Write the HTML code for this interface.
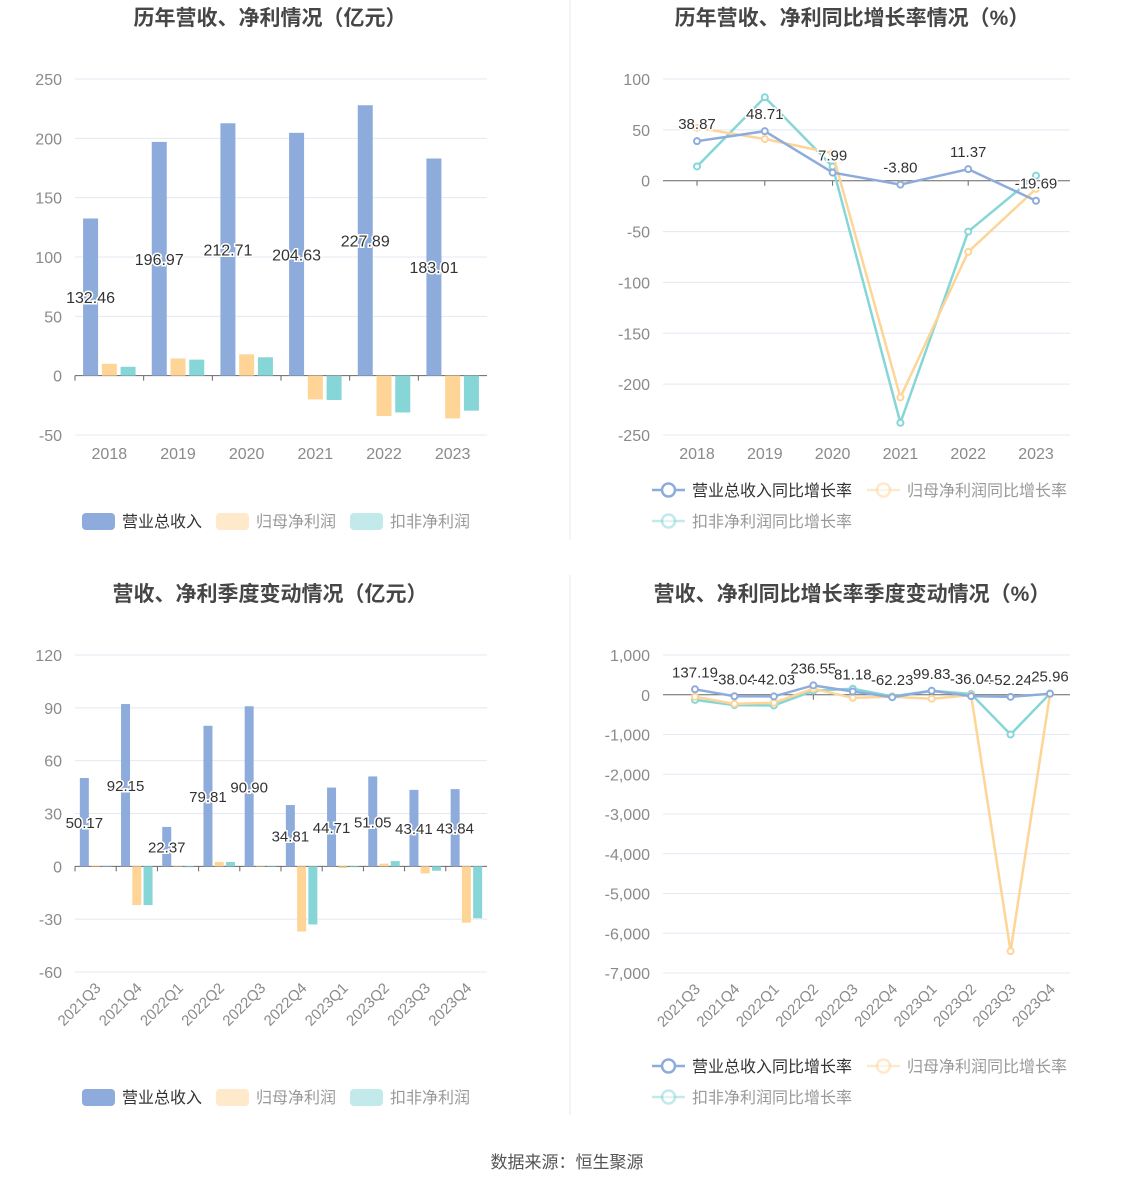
<!DOCTYPE html>
<html><head><meta charset="utf-8"><style>
html,body{margin:0;padding:0;background:#fff;}
svg{display:block;font-family:"Liberation Sans","Noto Sans CJK SC",sans-serif;}
</style></head><body>
<svg id="root" width="1134" height="1188" viewBox="0 0 1134 1188" xmlns="http://www.w3.org/2000/svg">
<line x1="570" y1="0" x2="570" y2="540" stroke="#e8e8e8"/>
<line x1="570" y1="575" x2="570" y2="1115" stroke="#e8e8e8"/>
<text x="270" y="25" text-anchor="middle" font-size="21" font-weight="bold" fill="#464646">历年营收、净利情况（亿元）</text>
<text x="852" y="25" text-anchor="middle" font-size="21" font-weight="bold" fill="#464646">历年营收、净利同比增长率情况（%）</text>
<text x="270" y="601" text-anchor="middle" font-size="21" font-weight="bold" fill="#464646">营收、净利季度变动情况（亿元）</text>
<text x="852" y="601" text-anchor="middle" font-size="21" font-weight="bold" fill="#464646">营收、净利同比增长率季度变动情况（%）</text>
<text x="567" y="1168" text-anchor="middle" font-size="17" fill="#555">数据来源：恒生聚源</text>
<g id="c1"></g>
<g id="c2"></g>
<g id="c3"></g>
<g id="c4"></g>
<g id="legends"></g>
</svg>
<script>
const years = ["2018","2019","2020","2021","2022","2023"];
const annualRevenue = [132.46,196.97,212.71,204.63,227.89,183.01];
const annualNetProfit = [10,14.5,18,-20,-34,-36];
const annualDeductedProfit = [7.5,13.5,15.5,-20.5,-31,-29.5];
const annualTicks = [250,200,150,100,50,0,-50];

const annualRevenueGrowth = [38.87,48.71,7.99,-3.80,11.37,-19.69];
const annualNetGrowth = [52,41,27,-213,-70,-8];
const annualDeductedGrowth = [14,82,14,-238,-50,5];
const annualGrowthTicks = [100,50,0,-50,-100,-150,-200,-250];

const quarters = ["2021Q3","2021Q4","2022Q1","2022Q2","2022Q3","2022Q4","2023Q1","2023Q2","2023Q3","2023Q4"];
const quarterRevenue = [50.17,92.15,22.37,79.81,90.90,34.81,44.71,51.05,43.41,43.84];
const quarterNetProfit = [0.5,-22,0.3,2.5,0.3,-37,-1,1.5,-4,-32];
const quarterDeductedProfit = [0.3,-22,-0.5,2.5,0.2,-33,-0.5,3,-2.5,-29.5];
const quarterTicks = [120,90,60,30,0,-30,-60];

const quarterRevenueGrowth = [137.19,-38.04,-42.03,236.55,81.18,-62.23,99.83,-36.04,-52.24,25.96];
const quarterNetGrowth = [-50,-230,-200,150,-80,-50,-100,-10,-6450,20];
const quarterDeductedGrowth = [-130,-260,-270,100,150,-40,100,20,-1000,30];
const quarterGrowthTicks = [1000,0,-1000,-2000,-3000,-4000,-5000,-6000,-7000];

const NS="http://www.w3.org/2000/svg";
const BLUE="#8eacdb",ORANGE="#fed597",TEAL="#86d6d8";
function mk(parent,tag,attrs,text){const e=document.createElementNS(NS,tag);for(const k in attrs)e.setAttribute(k,attrs[k]);if(text!==undefined)e.textContent=text;parent.appendChild(e);return e;}
function fmt(v){return Math.abs(v)>=1000?v.toLocaleString("en-US"):String(v);}
function yAxis(g,ticks,x0,x1,yTop,yBot){
  const max=ticks[0],min=ticks[ticks.length-1];
  const y=v=>yTop+(max-v)/(max-min)*(yBot-yTop);
  ticks.forEach(t=>{
    const l=mk(g,"line",{x1:x0,x2:x1,y1:y(t),y2:y(t),stroke:t===0?"#666":"#e3e8f3","stroke-width":1});
    
    
    const tx=mk(g,"text",{x:x0-13,y:y(t)+6,"text-anchor":"end","font-size":16,fill:"#8a8a8a"},fmt(t));
    
    
  });
  return y;
}
function xLabels(g,cats,xf,yPos,rotate){
  cats.forEach((c,i)=>{
    const x=xf(i);
    const t=rotate?mk(g,"text",{x:x+6,y:yPos,"text-anchor":"end","font-size":15,fill:"#8a8a8a",transform:`rotate(-45 ${x+6} ${yPos})`},c)
                  :mk(g,"text",{x:x,y:yPos,"text-anchor":"middle","font-size":16,fill:"#8a8a8a"},c);
    
    
  });
}
function barChart(id,cats,s1,s2,s3,ticks,x0,x1,yTop,yBot,bw,labelFs,rotate){
  const g=document.getElementById(id);
  const y=yAxis(g,ticks,x0,x1,yTop,yBot);
  const step=(x1-x0)/cats.length;
  const cx=i=>x0+step*(i+0.5);
  const gap=bw*0.25;
  [[s1,BLUE,-1,'bar-revenue'],[s2,ORANGE,0,'bar-net-profit'],[s3,TEAL,1,'bar-deducted-profit']].forEach(([arr,col,o,name])=>{
    arr.forEach((v,i)=>{
      const bx=cx(i)+o*(bw+gap)-bw/2;
      const r=mk(g,"rect",{x:bx,y:Math.min(y(v),y(0)),width:bw,height:Math.abs(y(v)-y(0)),fill:col});
      
      
    });
  });
  cats.forEach((c,i)=>{const t=mk(g,"line",{x1:cx(i)-step/2,x2:cx(i)-step/2,y1:y(0),y2:y(0)+5,stroke:"#666"});});
  s1.forEach((v,i)=>{
    const bx=cx(i)-(bw+gap);
    const t=mk(g,"text",{x:bx,y:y(v/2)+6,"text-anchor":"middle","font-size":labelFs,fill:"#333",stroke:"#fff","stroke-width":3,"paint-order":"stroke"},v.toFixed(2));
    
    
  });
  xLabels(g,cats,cx,rotate?yBot+17:yBot+24,rotate);
}
function lineChart(id,cats,s1,s2,s3,ticks,x0,x1,yTop,yBot,px0,px1,rotate){
  const g=document.getElementById(id);
  const y=yAxis(g,ticks,x0,x1,yTop,yBot);
  const step=(px1-px0)/(cats.length-1);
  const cx=i=>px0+step*i;
  cats.forEach((c,i)=>{const t=mk(g,"line",{x1:cx(i),x2:cx(i),y1:y(0),y2:y(0)+5,stroke:"#666"});});
  [[s3,TEAL,'line-deducted-growth'],[s2,ORANGE,'line-net-growth'],[s1,BLUE,'line-revenue-growth']].forEach(([arr,col,name])=>{
    const p=mk(g,"polyline",{points:arr.map((v,i)=>cx(i)+","+y(v)).join(" "),fill:"none",stroke:col,"stroke-width":2.5});
    
    
    arr.forEach((v,i)=>{const c=mk(g,"circle",{cx:cx(i),cy:y(v),r:3,fill:"#fff",stroke:col,"stroke-width":2});});
  });
  s1.forEach((v,i)=>{
    const t=mk(g,"text",{x:cx(i),y:y(v)-12,"text-anchor":"middle","font-size":15,fill:"#333",stroke:"#fff","stroke-width":3,"paint-order":"stroke"},v.toFixed(2));
    
    
  });
  xLabels(g,cats,cx,rotate?yBot+17:yBot+24,rotate);
}
barChart("c1",years,annualRevenue,annualNetProfit,annualDeductedProfit,annualTicks,75,487,79,435,15,16,false);
lineChart("c2",years,annualRevenueGrowth,annualNetGrowth,annualDeductedGrowth,annualGrowthTicks,663,1070,79,435,697,1036,false);
barChart("c3",quarters,quarterRevenue,quarterNetProfit,quarterDeductedProfit,quarterTicks,75,487,655,972,9,15,true);
lineChart("c4",quarters,quarterRevenueGrowth,quarterNetGrowth,quarterDeductedGrowth,quarterGrowthTicks,663,1070,655,973,695,1050,true);

const lg=document.getElementById("legends");
function barLegend(y){
  [[82,BLUE,"营业总收入","#333",1],[216,ORANGE,"归母净利润","#999",0.5],[350,TEAL,"扣非净利润","#999",0.5]].forEach(([x,c,t,tc,op])=>{
    const g=mk(lg,"g",{});
    
    
    mk(g,"rect",{x:x,y:y-8,width:33,height:17,rx:4,fill:c,opacity:op});
    mk(g,"text",{x:x+40,y:y+6,"font-size":16,fill:tc},t);
  });
}
function lineLegend(y){
  [[652,y,BLUE,"营业总收入同比增长率","#333",1],[867,y,ORANGE,"归母净利润同比增长率","#999",0.5],[652,y+31,TEAL,"扣非净利润同比增长率","#999",0.5]].forEach(([x,yy,c,t,tc,op])=>{
    const g=mk(lg,"g",{opacity:1});
    
    
    mk(g,"line",{x1:x,x2:x+33,y1:yy,y2:yy,stroke:c,"stroke-width":2.5,opacity:op});
    mk(g,"circle",{cx:x+16.5,cy:yy,r:6.5,fill:"#fff",stroke:c,"stroke-width":2.5,opacity:op});
    mk(g,"text",{x:x+40,y:yy+6,"font-size":16,fill:tc},t);
  });
}
barLegend(521);barLegend(1097);
lineLegend(490);lineLegend(1066);
</script>
</body></html>
